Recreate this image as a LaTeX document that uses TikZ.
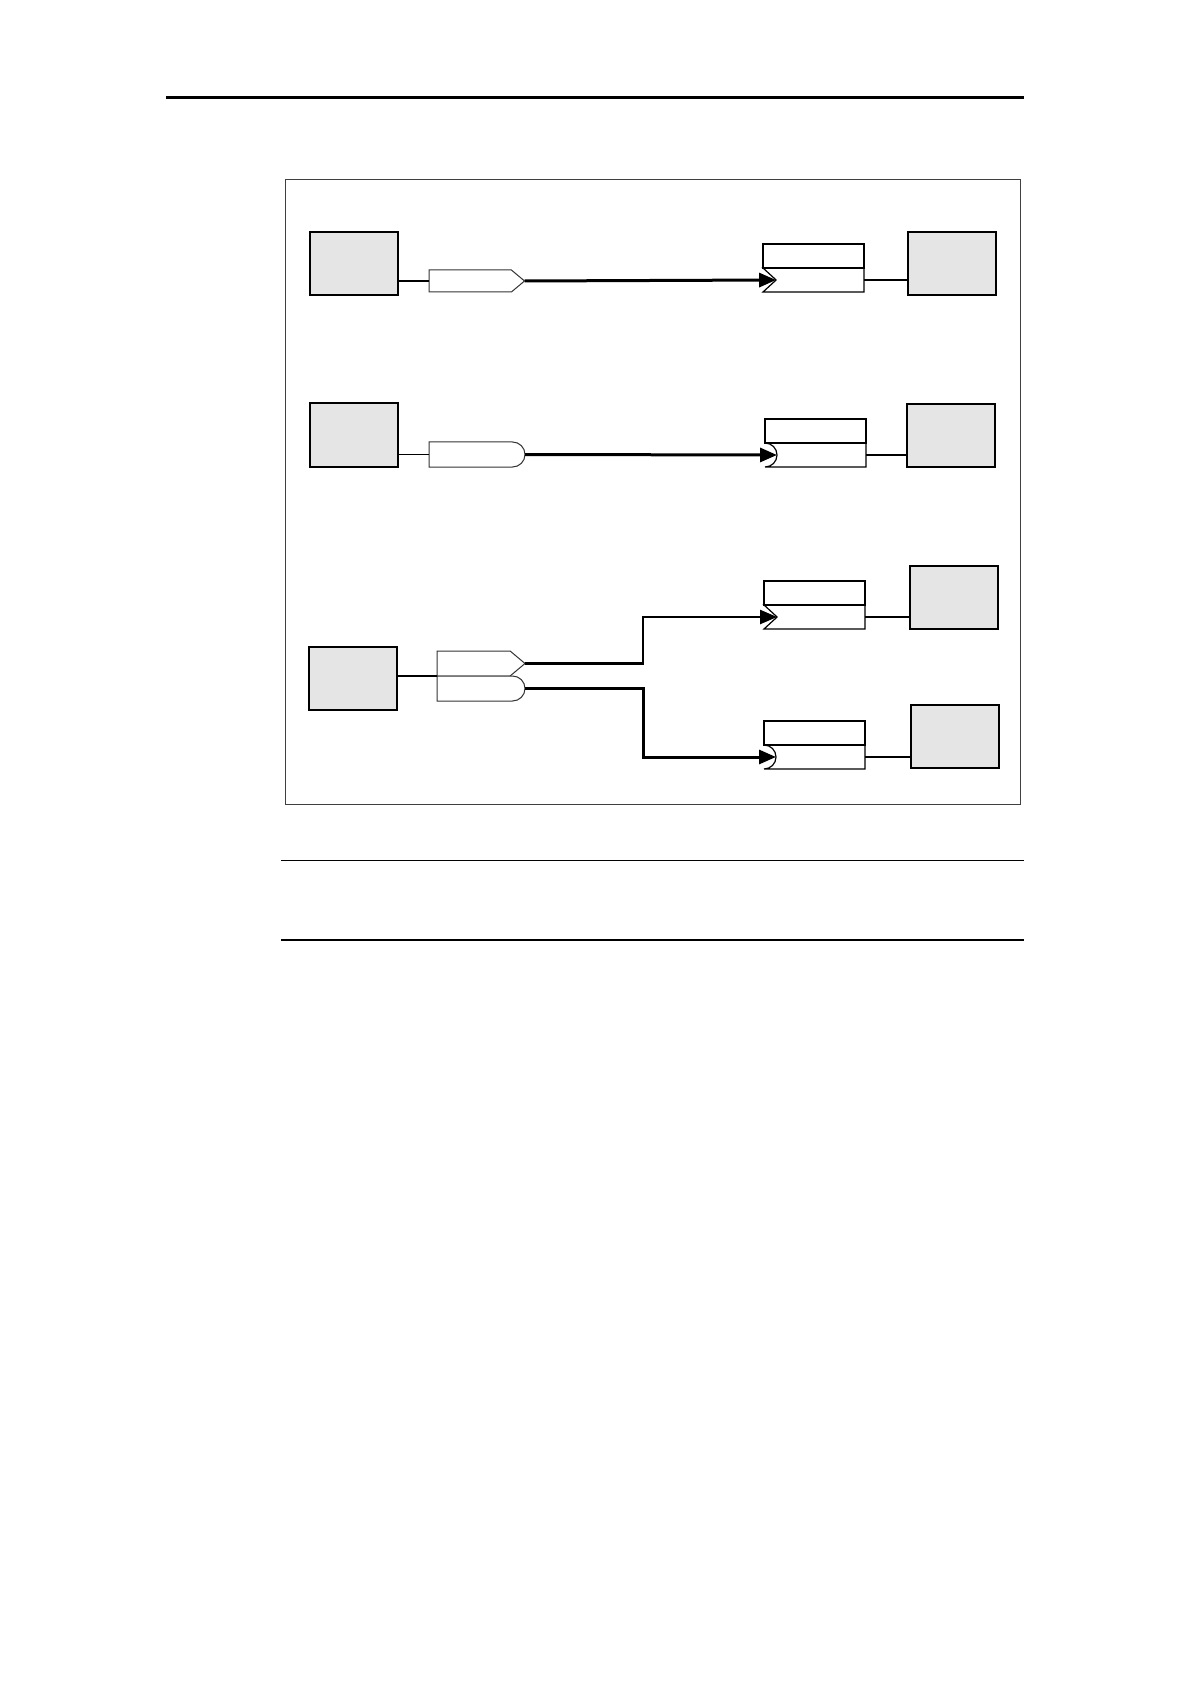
\documentclass[tikz,border=0pt]{standalone}
\usepackage{tikz}
\usetikzlibrary{arrows.meta,positioning,shapes.symbols,shapes.misc}

\begin{document}
\begin{tikzpicture}[x=.5pt, y=-.5pt, >={Triangle[length=8.5pt,width=7pt]}, line width=.5pt,
    block/.style={draw, line width=1pt, fill=gray!20, minimum width=44pt, minimum height=31.5pt, inner sep=0pt, outer sep=0pt},
    tagbase/.style={draw=black!80, fill=white, minimum height=12.5pt, minimum width=44pt, inner sep=0pt, outer sep=0pt},
    sendtag/.style={tagbase, signal, signal to=east, signal pointer angle=80},
    roundtag/.style={tagbase, rounded rectangle, rounded rectangle left arc=none},
    recvbase/.style={draw, line width=.6pt, minimum width=50.5pt, minimum height=12pt, inner sep=0pt, outer sep=0pt},
    recvtop/.style={recvbase, anchor=north west},
    recvsig/.style={recvbase, signal, signal from=west, signal to=nowhere, signal pointer angle=85, anchor=east},
    recvround/.style={recvbase, rounded rectangle, rounded rectangle left arc=concave, rounded rectangle right arc=none, anchor=east},
    link/.style={line width=1.5pt}]
  \useasboundingbox (0,0) rectangle (1190,1684);

  \draw[line width=1.2pt] (166,97.7) -- (1024,97.7);
  \draw[black!75] (285,180) rectangle (1020,804);
  \draw[line width=.7pt] (281,860.3) -- (1024,860.3);
  \draw[line width=.7pt] (281,939.8) -- (1024,939.8);

  \foreach \n/\x/\y in {a1/353.5/263.5, a2/353.5/435, a3/353/678.5,
                        b1/952/263.5, b2/951/435.5, b3a/953.5/597.5, b3b/954.5/736.5}
    \node[block] (\n) at (\x,\y) {};

  % sending side
  \node[sendtag, anchor=west, minimum height=11pt, minimum width=47.75pt] (t1) at (429,281) {};
  \node[roundtag, anchor=west, minimum width=48pt] (t2) at (429,454.5) {};
  \node[sendtag, anchor=west] (t3a) at (437,663.5) {};
  \node[roundtag, anchor=west] (t3b) at (437,688.5) {};

  % receiving side
  \node[recvtop] (r1u) at (763,244) {};
  \node[recvsig] (r1l) at ([yshift=-6pt]r1u.south east) {};
  \node[recvtop] (r2u) at (765,419) {};
  \node[recvround] (r2l) at ([yshift=-6pt]r2u.south east) {};
  \node[recvtop] (r3au) at (764,581) {};
  \node[recvsig] (r3al) at ([yshift=-6pt]r3au.south east) {};
  \node[recvtop] (r3bu) at (764,721) {};
  \node[recvround] (r3bl) at ([yshift=-6pt]r3bu.south east) {};

  \draw[line width=.6pt] (a1.east |- t1.west) -- (t1.west);
  \draw[line width=.6pt] (a2.east |- t2.west) -- (t2.west);
  \draw[line width=.6pt] (a3.east |- t3b.north) -- (t3a.west |- t3b.north);
  \draw[line width=.6pt] (r1l.east) -- (r1l.east -| b1.west);
  \draw[line width=.6pt] (r2l.east) -- (r2l.east -| b2.west);
  \draw[line width=.6pt] (r3al.east) -- (r3al.east -| b3a.west);
  \draw[line width=.6pt] (r3bl.east) -- (r3bl.east -| b3b.west);

  \draw[link, ->] (t1.east) -- (r1l.west);
  \draw[link, ->] (t2.east) -- ([xshift=6pt]r2l.west);
  \draw[link, line width=1.1pt, ->] (t3a.east) -- ++(118,0) |- (r3al.west);
  \draw[link, ->] (t3b.east) -- ++(118,0) |- ([xshift=6pt]r3bl.west);
\end{tikzpicture}
\end{document}
